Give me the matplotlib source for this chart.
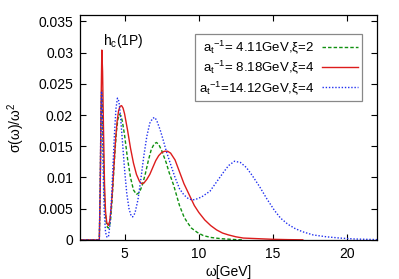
import matplotlib
matplotlib.use("Agg")
import matplotlib.pyplot as plt

plt.rcParams['font.family'] = ['Liberation Sans', 'DejaVu Sans']
plt.rcParams['mathtext.default'] = 'regular'
plt.rcParams['font.size'] = 10

# omega [GeV] and sigma/omega^2
w_418 = [2.0, 3.30, 3.36, 3.42, 3.46, 3.51, 3.58, 3.65, 3.75, 3.85, 3.95, 4.05, 4.15, 4.25,
         4.35, 4.45, 4.55, 4.65, 4.75, 4.85, 5.00, 5.20, 5.40, 5.60, 5.80, 6.00, 6.20, 6.40,
         6.60, 6.80, 7.00, 7.15, 7.30, 7.50, 7.80, 8.00, 8.30, 8.70, 9.00, 9.20, 9.50, 9.90,
         10.3, 10.8, 11.5, 12.5, 13.0]
s_418 = [0, 0, 0.008, 0.020, 0.024, 0.021, 0.013, 0.0065, 0.0030, 0.0020, 0.0019, 0.0030,
         0.0060, 0.0100, 0.0140, 0.0173, 0.0193, 0.0201, 0.0199, 0.0190, 0.0168, 0.0130,
         0.0100, 0.0080, 0.0073, 0.0076, 0.0088, 0.0106, 0.0127, 0.0145, 0.0154, 0.0156,
         0.0153, 0.0143, 0.0124, 0.0108, 0.0088, 0.0055, 0.0037, 0.0029, 0.0019, 0.0012,
         0.0007, 0.0004, 0.0002, 0.00005, 0.0]

w_818 = [2.0, 3.30, 3.36, 3.42, 3.47, 3.52, 3.58, 3.65, 3.72, 3.80, 3.90, 4.00, 4.10, 4.20,
         4.30, 4.40, 4.50, 4.60, 4.70, 4.80, 4.90, 5.00, 5.20, 5.40, 5.60, 5.80, 6.00, 6.15,
         6.30, 6.50, 6.70, 6.90, 7.10, 7.30, 7.50, 7.70, 7.90, 8.10, 8.40, 8.70, 9.00, 9.40,
         9.70, 10.0, 10.4, 10.8, 11.2, 11.6, 12.0, 12.5, 13.0, 14.0, 15.0, 16.0, 17.0]
s_818 = [0, 0, 0.008, 0.022, 0.0304, 0.027, 0.018, 0.009, 0.0045, 0.0028, 0.0023, 0.0030,
         0.0052, 0.0085, 0.0125, 0.0162, 0.0190, 0.0207, 0.0214, 0.0215, 0.0211, 0.0202,
         0.0176, 0.0147, 0.0123, 0.0105, 0.0094, 0.0090, 0.0091, 0.0097, 0.0105, 0.0116,
         0.0127, 0.0135, 0.0140, 0.0142, 0.0142, 0.0139, 0.0128, 0.0109, 0.0090, 0.0070,
         0.0055, 0.0044, 0.0032, 0.0023, 0.0016, 0.0011, 0.0008, 0.0005, 0.0003, 0.0002,
         0.0001, 0.00005, 0.00002]

w_1412 = [2.0, 3.30, 3.36, 3.41, 3.45, 3.50, 3.56, 3.63, 3.72, 3.82, 3.92, 4.02, 4.12, 4.22,
          4.32, 4.42, 4.52, 4.62, 4.72, 4.85, 5.00, 5.15, 5.30, 5.45, 5.55, 5.70, 5.90, 6.10,
          6.30, 6.50, 6.70, 6.90, 7.05, 7.20, 7.40, 7.60, 7.80, 8.10, 8.40, 8.70, 9.00, 9.30,
          9.55, 9.80, 10.2, 10.75, 11.2, 11.65, 12.0, 12.4, 12.8, 13.2, 13.6, 14.1, 14.6,
          15.1, 15.5, 16.0, 16.5, 17.0, 17.7, 18.6, 19.5, 20.5, 22.0]
s_1412 = [0, 0, 0.009, 0.020, 0.0238, 0.020, 0.011, 0.0045, 0.0012, 0.0004, 0.0006, 0.0025,
          0.0065, 0.0118, 0.0170, 0.0210, 0.0227, 0.0222, 0.0200, 0.0160, 0.0113, 0.0074,
          0.0050, 0.0038, 0.0037, 0.0043, 0.0064, 0.0098, 0.0135, 0.0166, 0.0187, 0.0195,
          0.0196, 0.0189, 0.0176, 0.0160, 0.0143, 0.0121, 0.0100, 0.0082, 0.0072, 0.0066,
          0.0064, 0.0065, 0.0069, 0.0078, 0.0093, 0.0108, 0.0119, 0.0126, 0.0124, 0.0116,
          0.0103, 0.0085, 0.0065, 0.0047, 0.0035, 0.0025, 0.0018, 0.0013, 0.0008, 0.0005,
          0.0003, 0.00015, 0.00005]

labels = [r'a$_t{}^{-1}$= 4.11GeV,ξ=2',
          r'a$_t{}^{-1}$= 8.18GeV,ξ=4',
          r'a$_t{}^{-1}$=14.12GeV,ξ=4']
xticks = [5, 10, 15, 20]
yticks = [0, 0.005, 0.01, 0.015, 0.02, 0.025, 0.03, 0.035]
ytick_labels = ['0', '0.005', '0.01', '0.015', '0.02', '0.025', '0.03', '0.035']

fig = plt.figure(figsize=(3.99, 2.79), dpi=100)
ax = fig.add_axes([0.2005, 0.14, 0.7445, 0.806])

ax.plot(w_418, s_418, color='#109010', lw=1.0, ls=(0, (2.5, 1.5)), label=labels[0])
ax.plot(w_818, s_818, color='#dd1c1c', lw=1.0, label=labels[1])
ax.plot(w_1412, s_1412, color='#2030f0', lw=1.0, ls=(0, (1, 1.3)), label=labels[2])

ax.set_xlim(2, 22)
ax.set_ylim(0, 0.036)
ax.set_xticks(xticks)
ax.set_yticks(yticks)
ax.set_yticklabels(ytick_labels)
ax.tick_params(direction='in', top=True, right=True, length=4, width=0.8, pad=5)
for sp in ax.spines.values():
    sp.set_linewidth(0.9)

ax.text(3.55, 0.0312, r'h$_c$(1P)', fontsize=10)

leg = ax.legend(loc='upper right', bbox_to_anchor=(0.95, 0.916), borderaxespad=0,
                markerfirst=False, fancybox=False, edgecolor='#888888', framealpha=1,
                handlelength=2.7, handletextpad=0.55, labelspacing=0.2, borderpad=0.35,
                fontsize=9.5)
leg.get_frame().set_linewidth(0.9)

ax.set_xlabel('ω[GeV]', labelpad=3)
ax.set_ylabel(r'σ(ω)/ω$^2$', labelpad=8)

fig.savefig('out.png', dpi=100)
